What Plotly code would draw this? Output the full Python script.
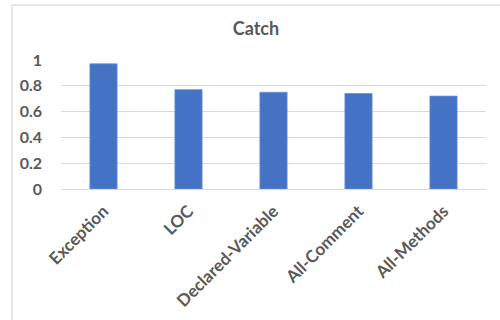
import plotly.graph_objects as go

# Catch scores per metric
categories = ["Exception", "LOC", "Declared-Variable", "All-Comment", "All-Methods"]
values = [0.97, 0.77, 0.75, 0.74, 0.72]
y_ticks = [0, 0.2, 0.4, 0.6, 0.8, 1]
y_tick_labels = ["0", "0.2", "0.4", "0.6", "0.8", "1"]

TEXT = "#595959"
GRID = "#D9D9D9"
FONT = "Lato"


def bold(s):
    return f"<b>{s}</b>"


fig = go.Figure(
    go.Bar(
        x=categories,
        y=values,
        marker=dict(color="#4472C4", line=dict(color="#6A90D6", width=0.8)),
    )
)

# light frame around the chart area
fig.add_shape(
    type="rect", xref="paper", yref="paper",
    x0=-0.1153, x1=1.3, y0=-1.6, y1=1.426,
    line=dict(color=GRID, width=1.2), fillcolor="rgba(0,0,0,0)", layer="below",
)

fig.update_layout(
    width=500, height=320,
    margin=dict(l=61, r=14, t=60, b=131),
    paper_bgcolor="white", plot_bgcolor="white",
    bargap=0.68,
    showlegend=False,
    title=dict(
        text=bold("Catch"), x=0.512, xref="container", xanchor="center",
        y=1 - 29 / 320, yref="container", yanchor="middle",
        font=dict(family=FONT, size=18, color=TEXT),
    ),
    font=dict(family=FONT, color=TEXT),
)

fig.update_xaxes(
    tickangle=-45,
    tickvals=categories, ticktext=[bold(c) for c in categories],
    tickfont=dict(family=FONT, size=17, color=TEXT),
    showgrid=False, showline=False, zeroline=False,
    ticks="", ticklabelstandoff=8, automargin=False,
)
fig.update_yaxes(
    range=[0, 1.0],
    tickvals=y_ticks, ticktext=[bold(t) for t in y_tick_labels],
    tickfont=dict(family=FONT, size=16, color=TEXT),
    showgrid=True, gridcolor=GRID, gridwidth=1,
    zeroline=True, zerolinecolor=GRID, zerolinewidth=1,
    showline=False, ticks="", ticklabelstandoff=18, automargin=False,
)

fig.write_html("out.html")
